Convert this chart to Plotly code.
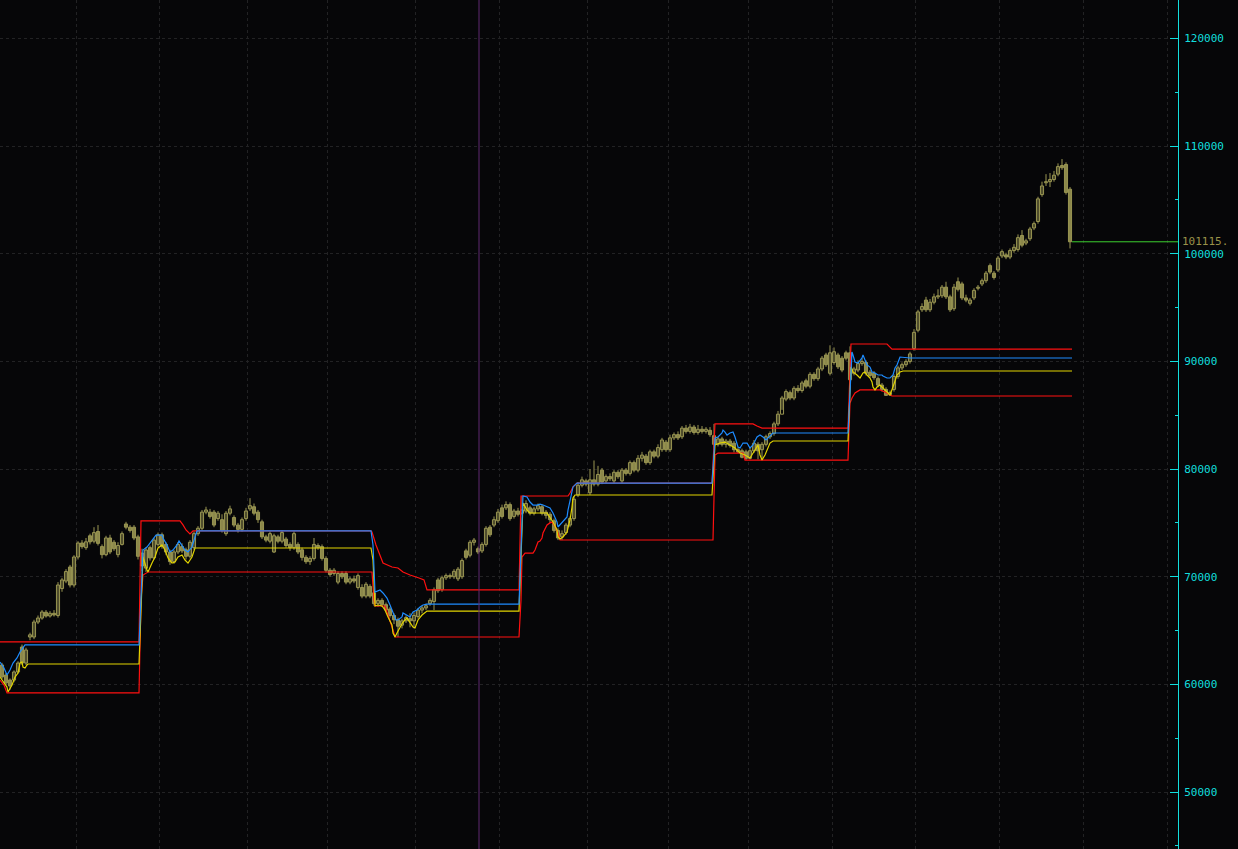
import plotly.graph_objects as go

# ---------------- candle data (daily bars, index 0..267) ----------------
opens = [61800,60870,60400,60400,61150,63470,61980,64400,64400,65790,66160,66700,66350,66600,66400,68900,69600,70900,69230,71830,
73130,72700,73800,73300,74200,72800,72050,73600,73200,72050,73000,74900,74600,74600,73700,72200,70800,72700,71750,73000,
73900,73000,72300,71400,72300,72800,72500,71900,72700,74000,74500,76000,76000,76000,75400,75300,74000,75900,75500,74800,
74400,75400,76300,76500,76000,75100,73700,73300,72300,73700,73300,73500,73000,72700,73000,72500,71800,71400,71700,72900,
72800,71700,70600,70300,69500,70300,70300,69500,69800,69000,69000,68200,69100,68500,67500,67800,67400,67000,66400,66000,
65500,65900,66100,65900,66300,66900,67100,67500,67700,69700,68800,69900,70100,70000,69800,70000,72400,72000,73200,72600,
72400,73000,74600,74800,75200,76400,76400,76700,75600,76100,75900,76100,76400,75900,76300,76500,76000,75800,75200,74300,
73700,74100,74800,75400,77600,78500,78900,77800,79000,78600,79900,78900,79300,78900,79700,78900,79900,79600,80600,79900,
81000,81200,80600,81600,81200,81800,82500,81800,82900,83200,83000,83800,83500,83900,83400,83700,83500,83600,83100,82300,
82800,82300,82600,82400,81800,81700,81600,81000,81700,82300,81800,82300,83000,83300,84200,85100,86500,87100,86600,87500,
87300,88200,87700,88800,88400,89300,90600,88900,89900,90600,90300,90800,90800,88900,89200,89800,89900,89000,88900,88400,
87800,87400,86900,87400,88600,89400,89700,90000,91200,92900,94800,95700,94800,95500,96000,96100,96900,96000,94900,97400,
97200,95900,95400,95900,96800,97200,97500,98900,98200,98500,99800,99900,99700,100300,100400,101700,101000,101400,102400,103000,
105500,106600,106700,106900,107400,108200,108300,106000]
highs = [62000,61050,60550,61300,62150,63700,63400,64800,66000,66400,66900,66900,66800,66900,69500,69900,70700,71100,72000,73300,
73400,73600,74000,74600,74800,73000,73800,73900,73400,73200,74200,75100,74800,74800,73900,72600,72700,72900,73600,74100,
74100,73200,72500,72500,73200,73100,72700,73400,74200,74700,76200,76500,76300,76200,76100,75800,76100,76600,75700,75000,
75500,76400,77300,76800,76200,75300,73900,74200,74000,73900,74300,73700,73200,74200,73200,72700,72000,71900,73600,73100,
73000,71900,70800,70800,70500,70500,70500,70000,70100,70300,69300,69500,69300,68700,68000,68000,67600,67200,66600,66200,
66100,66400,66600,66700,67100,67300,67500,68000,69000,69900,70100,70300,70300,70700,70900,71700,72600,73400,73600,72800,
73200,74700,74800,75600,76300,76700,77000,76900,76300,76400,77500,77100,76600,76500,76800,76700,76200,76000,75400,74500,
74300,75000,75600,77500,78800,79300,79100,80000,80800,80300,80100,79500,79600,79900,79900,80100,80100,80800,80800,81300,
81600,81400,81800,81800,82300,82900,82700,83200,83400,83500,84000,84100,84200,84100,84100,84000,83900,83900,84200,83000,
83000,82800,82800,82600,82000,81900,81800,82000,82700,82500,82500,83200,83500,84400,85400,86800,87400,87300,87700,87800,
88200,88400,89000,89000,89500,90500,90800,91500,91300,90800,90500,91000,91400,89500,90100,90300,90100,89200,89100,88600,
88000,87600,87300,88800,89600,89900,90200,90900,93000,94800,95400,96000,95800,96300,96700,97100,97400,96200,97200,97800,
97400,96200,95900,96800,97100,97700,98400,99100,98400,99800,100400,100100,100500,100900,101800,102200,101400,102500,103000,105300,
106700,107400,107500,107700,108400,108800,108500,106200]
lows = [60500,59950,59500,60200,61000,61800,61800,64100,64200,65600,66000,66200,66200,66300,66200,68600,69400,69000,69000,71600,
72600,72500,73000,73100,72900,71700,71900,72100,72400,71800,72900,74400,74100,73400,71600,70500,70440,71500,71600,72800,
72600,72000,71100,71200,72100,72200,71600,71700,72500,73800,74300,75800,75400,74600,75200,74100,73800,75700,74600,74100,
74200,75200,76100,75700,75000,73500,73200,73100,72200,73100,73100,72700,72400,72500,72100,71500,71200,71100,71500,72500,
71500,70400,70000,70100,69300,69800,69300,69300,69400,68800,68000,68000,68000,67300,67200,67200,66700,66200,65600,64400,
65200,65700,65300,65200,66100,66600,66900,67300,66900,68500,68600,69700,69800,69800,69600,69800,71600,71800,72900,72100,
72200,72800,73700,74600,75000,75400,76200,75200,75400,75600,75700,75900,75700,75700,76100,75700,75400,75000,74100,73400,
73400,73900,74600,75200,77400,78300,78400,77600,78400,78400,78600,78700,78900,78700,79100,78700,79400,79400,79700,79700,
80700,80400,80400,81000,81000,81600,81600,81600,82700,82700,82800,83300,83300,83200,83200,83300,83300,83000,82000,82100,
82100,82000,82000,81550,81500,81000,80850,80900,81500,80900,80900,82100,82800,83100,84000,85500,86300,86400,86400,87100,
87100,87500,87500,88200,88200,89100,89500,88700,89700,89300,89000,90100,88100,88700,89000,89600,88700,88500,88300,87600,
87200,86800,86790,87200,88400,89200,89500,89800,91000,92700,94600,94600,94600,95300,95800,95900,95800,94600,94700,96500,
95700,95500,95200,95700,96600,97000,97300,98100,97600,98300,99600,99500,99500,100100,100200,100600,100800,101200,102200,102800,
105300,106300,106200,106700,107200,107800,105500,100500]
closes = [60690,60130,59850,61150,61980,61980,63190,64600,65790,66160,66720,66350,66600,66450,69230,69700,70480,69230,71830,73130,
72800,73240,73240,74100,73100,72050,73600,72300,72600,72900,74000,74600,74300,73600,71900,71000,72480,71750,73400,73900,
72800,72300,71400,72300,73000,72400,71900,73200,74000,74500,76000,76200,75600,74800,75900,74300,75900,76300,74800,74400,
75300,76100,76600,75900,75300,73700,73400,74000,73800,73300,74100,72900,72700,74000,72300,71800,71400,71700,73000,72700,
71700,70600,70200,70600,70300,70000,69500,69800,69600,70100,68200,69300,68200,67500,67800,67400,66900,66400,66000,65400,
65900,66200,65900,66400,66900,67100,67300,67800,68800,68700,69900,70100,70000,70500,70700,71500,71800,73200,73400,72300,
73000,74500,73900,75300,76000,75600,76700,75400,76100,75800,76200,76800,75900,76300,76600,75900,75700,75300,74300,73600,
74000,74800,75400,77200,78500,79000,78600,79000,78600,79500,78800,79300,79100,79700,79300,79900,79600,80600,79900,81000,
81300,80600,81600,81200,82000,82700,81800,82900,83200,82900,83800,83500,83900,83400,83700,83500,83700,83200,82300,82800,
82300,82600,82200,81800,81600,81100,81000,81700,82400,81700,82300,83000,83300,84200,85100,86600,87200,86600,87500,87300,
88000,87700,88800,88400,89300,90300,89700,90800,90900,89500,89200,90300,88300,89300,89800,90000,88900,88700,88500,87800,
87400,86850,87100,88600,89400,89700,90000,90700,92700,94600,95100,94800,95500,96000,96100,96900,96000,94800,96900,96700,
95900,95700,95700,96600,96900,97500,98200,98300,97800,99600,100200,99700,100300,100600,101500,100800,101200,102300,102800,105100,
106300,106700,106900,107300,108100,108000,105700,101115]
bar_index = list(range(len(closes)))

# ---------------- indicator lines: [bar index, price] vertices ----------------
red_upper = [(-0.5,63940),(34.25,63940),(34.75,75180),(44.5,75180),(45.25,74810),(46,74340),(47,73970),(47.75,74250),
(92.25,74250),(92.5,74150),(93.5,72950),(95.25,71270),(97.5,70900),(99,70810),(100.25,70440),(102,70160),(104.25,69880),
(105.5,69700),(106.25,68770),(129.25,68770),(129.75,77500),(141.5,77500),(142,77780),(142.75,78340),(143.75,78700),
(177.5,78700),(178.25,84190),(187.75,84190),(188.75,84000),(190,83810),(211.5,83810),(212.25,91620),(221.25,91620),
(222,91340),(222.5,91150),(267.5,91150)]
red_lower = [(-0.5,60400),(0.5,59940),(1.25,59200),(34.25,59200),(34.75,67840),(35.25,70160),(36.5,70440),(92.5,70440),
(93,67840),(93.25,67280),(95.75,67280),(97,65980),(97.75,65050),(98.25,64400),(129.25,64400),(129.75,67840),(130,71830),
(130.75,72200),(132.75,72200),(133.25,72480),(133.75,72950),(134,73230),(134.5,73320),(135,73600),(135.25,74060),
(135.75,74520),(136.25,74810),(137,75000),(137.5,75080),(138.25,74710),(139,74060),(139.5,73410),(177.75,73410),
(178.25,81310),(179,81490),(185.25,81490),(185.75,80840),(211.5,80840),(212,86140),(212.5,86600),(213.25,87070),
(214.5,87350),(219.5,87350),(220.75,87160),(222,86880),(222.5,86790),(267.5,86790)]
blue_line = [(-0.5,62080),(0.5,61520),(1.25,60870),(2,61330),(2.75,61980),(3.75,62450),(4.5,63010),(5.25,63470),(5.75,63660),
(34.25,63660),(35.25,72480),(36.25,72760),(37,73130),(37.75,73600),(38.5,73870),(40,73870),(40.25,73600),(41.25,72950),
(42,72300),(42.75,72480),(43.75,72950),(44.25,73320),(45,72950),(45.75,72480),(46.5,72300),(47.5,72760),(48.25,73690),
(48.75,74250),(92.25,74250),(92.75,72950),(93.25,68580),(93.75,68670),(94.5,68770),(95.25,68490),(96.25,68020),(97,67370),
(97.75,66630),(98.5,65980),(99,65980),(100,66260),(100.25,66630),(101.25,66440),(102,66260),(102.75,66720),(103.75,66910),
(104.5,67190),(105.25,67370),(106.25,67460),(129.25,67460),(130.25,77500),(131.25,77410),(132,76940),(132.75,76660),
(133.75,76660),(134.5,76750),(135.25,76660),(136.25,76470),(137,76380),(137.75,75920),(138.75,75080),(139,74620),
(139.5,74810),(140.25,75080),(141.25,75550),(141.5,76190),(142,77130),(142.5,77780),(142.75,78340),(143.75,78700),
(177.5,78700),(178.25,82890),(179,82980),(180,83350),(180.25,83630),(180.75,83440),(181.25,83160),(182,83350),
(182.75,83440),(183.25,82980),(183.75,82420),(184,82050),(184.5,81960),(185,82240),(185.25,82420),(186.25,82420),
(187,81960),(187.75,82240),(188.75,82980),(189.5,83160),(190.25,82980),(191,82700),(192,83070),(192.75,83350),
(211.5,83350),(212.5,90880),(212.75,90600),(213.25,89950),(214,89850),(215,90320),(215.25,90600),(215.75,90130),
(216.25,89670),(217,89480),(217.5,89020),(218.25,88920),(219,88740),(220,88740),(220.25,88650),(221.25,88460),
(222,88460),(222.75,88740),(223.25,89390),(223.75,89670),(224,89950),(224.5,90410),(227,90320),(267.5,90320)]
yellow_line = [(-0.5,60680),(1.25,59750),(1.5,59290),(2.5,59940),(3.25,60680),(4,61050),(4.5,61980),(5,62080),(5.25,61610),
(5.75,61520),(6.25,61800),(6.5,61890),(34.25,61890),(35.25,71830),(36.25,70620),(36.5,70440),(37.5,71270),(38.25,71830),
(39,72670),(40,72950),(40.75,72480),(41.5,71740),(42.5,71270),(43.25,71360),(44,71830),(45,72020),(45.75,71550),
(46.5,71270),(47.5,71830),(48.25,72670),(92.25,72670),(92.75,71550),(93.25,67280),(94,67370),(95,67280),(95.75,66910),
(96.5,66260),(97.5,65520),(97.75,64770),(98.25,64400),(98.75,64770),(99.5,65330),(100.25,65790),(101.25,66160),
(102,65790),(102.75,65330),(103.25,65240),(104,65980),(105,66440),(105.75,66720),(106.25,66810),(129.25,66810),
(130.25,76850),(131.25,76190),(132,75920),(136.25,75920),(137,75550),(137.75,75080),(138.75,74340),(139,73690),
(139.5,73500),(140.25,73690),(141.25,74150),(142,75270),(142.5,76470),(142.75,77310),(143.25,77590),(177.5,77590),
(178.25,82240),(179.5,82420),(180.75,82510),(182,82240),(183.25,81960),(184.5,81490),(185.75,81310),(187,81030),
(188.25,81770),(189,82240),(189.5,81310),(190,80840),(190.75,81310),(191.5,81960),(192,82420),(192.75,82610),
(211.5,82610),(212.25,89480),(212.75,89020),(213.75,88740),(214.5,88460),(215.25,88920),(215.75,89020),(216.25,88740),
(217,88460),(217.5,88090),(217.75,87620),(218.25,87350),(218.75,87620),(219.5,87810),(220.25,87520),(221.25,87160),
(222,86880),(222.75,87620),(223.25,88280),(223.75,88740),(224.5,89020),(225.25,89110),(267.5,89110)]

last_price = 101115
last_label = "101115."
cursor_index = 119.25
month_grid = [18.5, 39.25, 61.25, 81.25, 103.25, 124.25, 146.25, 166.5, 186.5, 207.5, 228.25, 249.25, 270.25, 291.25]
major_ticks = [50000, 60000, 70000, 80000, 90000, 100000, 110000, 120000]
minor_ticks = [45000, 55000, 65000, 75000, 85000, 95000, 105000, 115000]

BG = "#060608"
CANDLE = "#9a9652"
CANDLE_FILL = "#7e7b44"
CYAN = "#12dede"
GRID = "#222224"
MONO = "DejaVu Sans Mono"

fig = go.Figure()

# wicks (drawn first so hollow bodies cover them)
wick_x, wick_y = [], []
for i in bar_index:
    wick_x += [i, i, None]
    wick_y += [lows[i], highs[i], None]
fig.add_trace(go.Scatter(x=wick_x, y=wick_y, mode="lines", line=dict(color=CANDLE, width=1),
                         hoverinfo="skip", showlegend=False))

# bodies: up = hollow, down = filled
MIN_BODY = 60
up_x = [i for i in bar_index if closes[i] >= opens[i]]
dn_x = [i for i in bar_index if closes[i] < opens[i]]
fig.add_trace(go.Bar(x=up_x, base=[opens[i] for i in up_x],
                     y=[max(closes[i] - opens[i], MIN_BODY) for i in up_x], width=0.78,
                     marker=dict(color=BG, line=dict(color=CANDLE, width=1)),
                     hoverinfo="skip", showlegend=False))
fig.add_trace(go.Bar(x=dn_x, base=[closes[i] for i in dn_x],
                     y=[max(opens[i] - closes[i], MIN_BODY) for i in dn_x], width=0.78,
                     marker=dict(color=CANDLE_FILL, line=dict(color=CANDLE, width=1)),
                     hoverinfo="skip", showlegend=False))

def add_line(pts, color, width=1.2):
    fig.add_trace(go.Scatter(x=[p[0] for p in pts], y=[p[1] for p in pts], mode="lines",
                             line=dict(color=color, width=width), hoverinfo="skip", showlegend=False))

add_line(red_upper, "#ff1010")
add_line(red_lower, "#ff1010")
add_line(yellow_line, "#e2d400")
add_line(blue_line, "#1e8cff")
add_line([(267.5, last_price), (300, last_price)], "#3cd030", 1)

fig.add_shape(type="line", xref="x", yref="paper", x0=cursor_index, x1=cursor_index, y0=0, y1=1,
              line=dict(color="#5e2870", width=1))

fig.add_annotation(xref="paper", yref="y", x=1, y=last_price, xanchor="left", yanchor="middle", xshift=2,
                   text=last_label, showarrow=False, font=dict(family=MONO, size=11, color="#9a9248"))

fig.update_layout(
    width=1238, height=849, autosize=False,
    margin=dict(l=0, r=60, t=0, b=0, pad=0),
    paper_bgcolor=BG, plot_bgcolor=BG,
    barmode="overlay",
    xaxis=dict(range=[-0.5, 294], showticklabels=False, ticks="", tickvals=month_grid,
               showgrid=True, gridcolor=GRID, griddash="3px,3px", gridwidth=1,
               zeroline=False, showline=False, fixedrange=True),
    yaxis=dict(side="right", range=[44705, 123577], tickvals=major_ticks,
               ticktext=[str(v) for v in major_ticks],
               ticks="inside", ticklen=8, tickwidth=1, tickcolor=CYAN,
               showline=True, linecolor=CYAN, linewidth=1,
               showgrid=True, gridcolor=GRID, griddash="3px,3px", gridwidth=1,
               zeroline=False, tickfont=dict(family=MONO, size=11, color=CYAN),
               ticklabelstandoff=3,
               minor=dict(tickvals=minor_ticks, ticks="inside", ticklen=3, tickcolor=CYAN, tickwidth=1, showgrid=False),
               fixedrange=True),
    showlegend=False,
)

fig.write_html("out.html", config={"displayModeBar": False},
               post_script="document.body.style.margin='0';document.body.style.overflow='hidden';")
